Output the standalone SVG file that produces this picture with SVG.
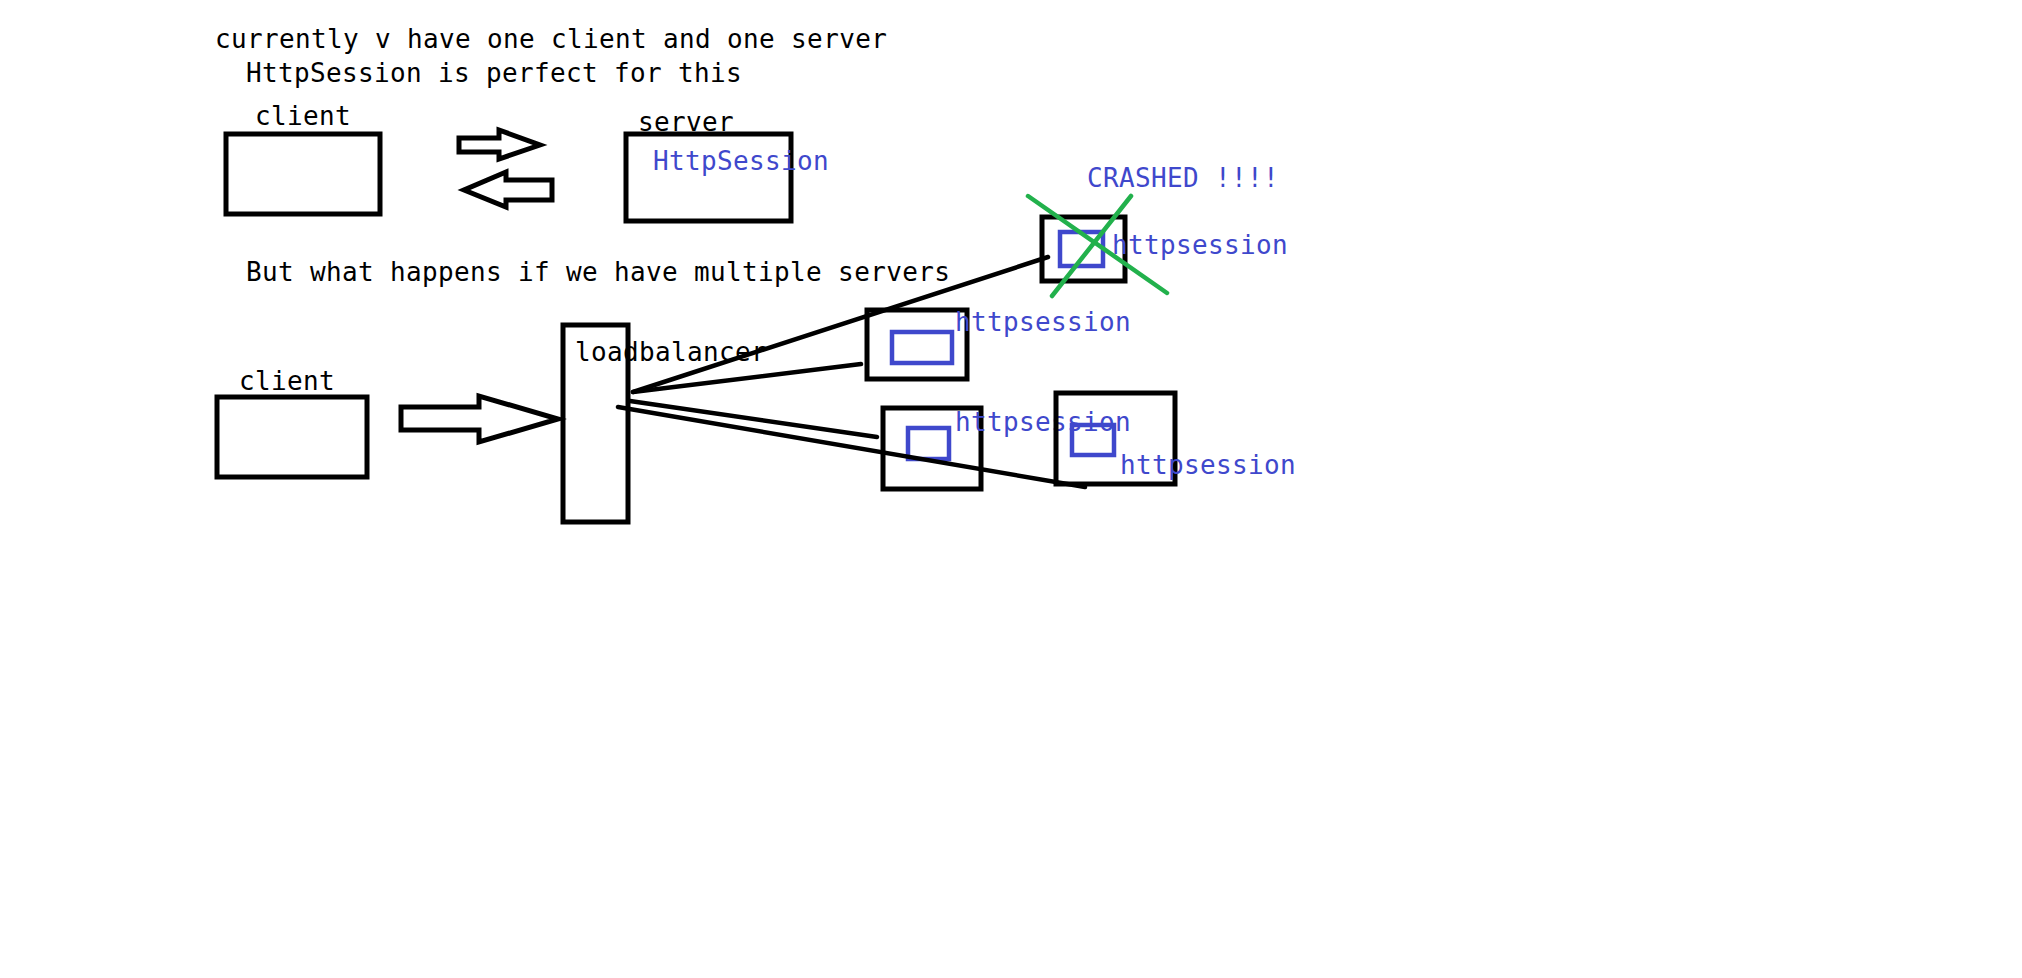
<svg xmlns="http://www.w3.org/2000/svg" width="2022" height="978" viewBox="0 0 2022 978">
<style>
.t{font-family:"DejaVu Sans Mono","Liberation Mono",monospace;font-size:26px;letter-spacing:0.35px;fill:#000}
.b{fill:#3F48CC}
.box{fill:none;stroke:#000;stroke-width:5}
.inner{fill:none;stroke:#3F48CC;stroke-width:4.5}
.arr{fill:#fff;stroke:#000;stroke-width:5;stroke-linejoin:miter}
.ln{stroke:#000;stroke-width:4.5;stroke-linecap:round}
.x{stroke:#22B14C;stroke-width:4.5;stroke-linecap:round}
</style>
<rect width="2022" height="978" fill="#fff"/>
<g id="title">
<text class="t" x="215" y="48">currently v have one client and one server</text>
<text class="t" x="246" y="82">HttpSession is perfect for this</text>
<text class="t" x="246" y="281">But what happens if we have multiple servers</text>
</g>
<g id="client1">
<rect class="box" x="226" y="134" width="154" height="80"/>
<text class="t" x="255" y="125">client</text>
</g>
<g id="server1">
<text class="t" x="638" y="131">server</text>
<rect class="box" x="626" y="134" width="165" height="87"/>
<text class="t b" x="653" y="170">HttpSession</text>
</g>
<g id="client2">
<rect class="box" x="217" y="397" width="150" height="80"/>
<text class="t" x="239" y="390">client</text>
</g>
<g id="loadbalancer">
<rect class="box" x="563" y="325" width="65" height="197"/>
<text class="t" x="575" y="361">loadbalancer</text>
</g>
<g id="server-crashed">
<rect class="box" x="1042" y="217" width="83" height="64"/>
<rect class="inner" x="1060" y="232" width="43" height="34"/>
<text class="t b" x="1112" y="254">httpsession</text>
<text class="t b" x="1087" y="187">CRASHED !!!!</text>
<line class="x" x1="1028" y1="196" x2="1167" y2="293"/>
<line class="x" x1="1131" y1="196" x2="1052" y2="296"/>
</g>
<g id="server2">
<rect class="box" x="867" y="310" width="100" height="69"/>
<rect class="inner" x="892" y="332" width="60" height="31"/>
<text class="t b" x="955" y="331">httpsession</text>
</g>
<g id="server3">
<rect class="box" x="883" y="408" width="98" height="81"/>
<rect class="inner" x="908" y="428" width="41" height="31"/>
<text class="t b" x="955" y="431">httpsession</text>
</g>
<g id="server4">
<rect class="box" x="1056" y="393" width="119" height="91"/>
<rect class="inner" x="1072" y="425" width="42" height="30"/>
<text class="t b" x="1120" y="474">httpsession</text>
</g>
<g id="connectors">
<polygon class="arr" points="459,138 499,138 499,130 540,145 499,159 499,152 459,152"/>
<polygon class="arr" points="552,180 506,180 506,172 464,190 506,207 506,200 552,200"/>
<polygon class="arr" points="401,407 479,407 479,396 558,419 479,442 479,430 401,430"/>
<line class="ln" x1="633" y1="392" x2="1048" y2="257"/>
<line class="ln" x1="633" y1="392" x2="861" y2="364"/>
<line class="ln" x1="630" y1="401" x2="877" y2="437"/>
<line class="ln" x1="618" y1="407" x2="1085" y2="487"/>
</g>
</svg>
